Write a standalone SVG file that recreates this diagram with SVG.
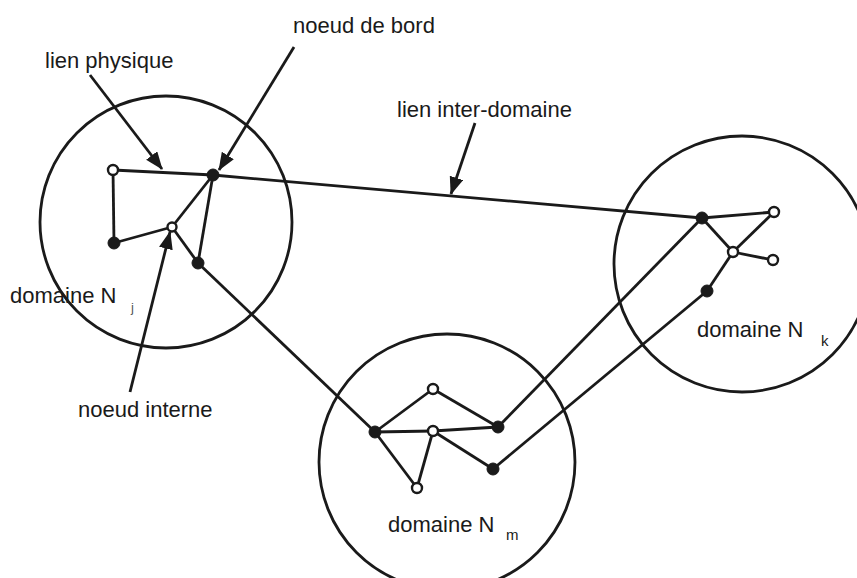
<svg xmlns="http://www.w3.org/2000/svg" width="857" height="578" viewBox="0 0 857 578">
<style>
.dom{fill:none;stroke:#1a1a1a;stroke-width:2.8}
.ln{stroke:#1a1a1a;stroke-width:2.8;fill:none}
.arr{stroke:#1a1a1a;stroke-width:2.8;fill:none;marker-end:url(#ah)}
.fn{fill:#1a1a1a;stroke:#1a1a1a;stroke-width:1}
.on{fill:#fff;stroke:#1a1a1a;stroke-width:2.4}
text{font-family:"Liberation Sans",Arial,sans-serif;fill:#1a1a1a}
.lab{font-size:22px}
.sub{font-size:15px}
</style>
<defs>
<marker id="ah" markerUnits="userSpaceOnUse" markerWidth="20" markerHeight="16" refX="17" refY="7" orient="auto">
<path d="M0,0 L18,7 L0,14 Z" fill="#1a1a1a"/>
</marker>
</defs>
<g id="domains">
<circle id="domain-j" class="dom" cx="166" cy="222" r="126"/>
<circle id="domain-m" class="dom" cx="447" cy="462" r="128"/>
<circle id="domain-k" class="dom" cx="742" cy="264" r="128"/>
</g>
<g id="connectors">
<line class="ln" x1="113" y1="170" x2="213" y2="175"/>
<line class="ln" x1="113" y1="170" x2="114" y2="243"/>
<line class="ln" x1="114" y1="243" x2="172" y2="227"/>
<line class="ln" x1="172" y1="227" x2="213" y2="175"/>
<line class="ln" x1="172" y1="227" x2="198" y2="263"/>
<line class="ln" x1="213" y1="175" x2="198" y2="263"/>
<line class="ln" x1="213" y1="175" x2="702" y2="218"/>
<line class="ln" x1="198" y1="263" x2="375" y2="432"/>
<line class="ln" x1="375" y1="432" x2="433" y2="389"/>
<line class="ln" x1="433" y1="389" x2="498" y2="427"/>
<line class="ln" x1="375" y1="432" x2="433" y2="431"/>
<line class="ln" x1="433" y1="431" x2="498" y2="427"/>
<line class="ln" x1="433" y1="431" x2="493" y2="469"/>
<line class="ln" x1="375" y1="432" x2="417" y2="488"/>
<line class="ln" x1="417" y1="488" x2="433" y2="431"/>
<line class="ln" x1="498" y1="427" x2="702" y2="218"/>
<line class="ln" x1="493" y1="469" x2="707" y2="291"/>
<line class="ln" x1="702" y1="218" x2="774" y2="212"/>
<line class="ln" x1="702" y1="218" x2="733" y2="252"/>
<line class="ln" x1="733" y1="252" x2="774" y2="212"/>
<line class="ln" x1="733" y1="252" x2="773" y2="260"/>
<line class="ln" x1="733" y1="252" x2="707" y2="291"/>
<line class="arr" x1="90" y1="75" x2="162" y2="169"/>
<line class="arr" x1="294" y1="47" x2="219" y2="170"/>
<line class="arr" x1="475" y1="123" x2="451" y2="194"/>
<line class="arr" x1="130" y1="392" x2="170" y2="232"/>
</g>
<g id="node-j1"><circle class="on" cx="113" cy="170" r="5"/></g>
<g id="node-j2"><circle class="fn" cx="213" cy="175" r="6"/></g>
<g id="node-j3"><circle class="fn" cx="114" cy="243" r="6"/></g>
<g id="node-j4"><circle class="on" cx="172" cy="227" r="4.5"/></g>
<g id="node-j5"><circle class="fn" cx="198" cy="263" r="6"/></g>
<g id="node-m1"><circle class="fn" cx="375" cy="432" r="6"/></g>
<g id="node-m2"><circle class="on" cx="433" cy="389" r="5"/></g>
<g id="node-m3"><circle class="on" cx="433" cy="431" r="5"/></g>
<g id="node-m4"><circle class="fn" cx="498" cy="427" r="6"/></g>
<g id="node-m5"><circle class="fn" cx="493" cy="469" r="6"/></g>
<g id="node-m6"><circle class="on" cx="417" cy="488" r="5"/></g>
<g id="node-k1"><circle class="fn" cx="702" cy="218" r="6"/></g>
<g id="node-k2"><circle class="on" cx="774" cy="212" r="5"/></g>
<g id="node-k3"><circle class="on" cx="733" cy="252" r="5"/></g>
<g id="node-k4"><circle class="on" cx="773" cy="260" r="5"/></g>
<g id="node-k5"><circle class="fn" cx="707" cy="291" r="6"/></g>
<g id="labels">
<text class="lab" x="293" y="33">noeud de bord</text>
<text class="lab" x="45" y="68">lien physique</text>
<text class="lab" x="397" y="117">lien inter-domaine</text>
<text class="lab" x="78" y="417">noeud interne</text>
<text class="lab" x="10" y="303">domaine N</text>
<text class="sub" x="131" y="312" style="font-size:13px;fill:#555">j</text>
<text class="lab" x="697" y="337">domaine N</text>
<text class="sub" x="821" y="346">k</text>
<text class="lab" x="388" y="532">domaine N</text>
<text class="sub" x="506" y="540">m</text>
</g>
</svg>
